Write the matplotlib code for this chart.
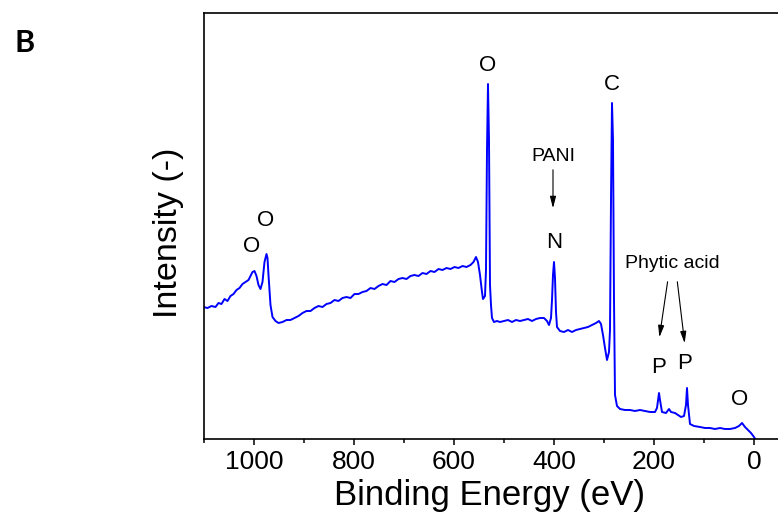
import matplotlib
matplotlib.use("Agg")
import matplotlib.pyplot as plt
from matplotlib.ticker import MultipleLocator

plt.rcParams['font.family'] = ['Liberation Sans', 'DejaVu Sans']

# XPS survey spectrum (binding energy in eV, intensity in a.u.)
energy = [1101, 1093, 1085, 1077, 1071, 1065, 1059, 1053, 1047, 1041, 1035, 1029,
          1023, 1017, 1011, 1007, 1003, 999, 995, 991, 987, 983, 979, 975, 973, 971,
          967, 963, 957, 951, 943, 935, 927, 919, 911, 903, 895, 887, 879, 871, 863,
          855, 847, 839, 831, 823, 815, 807, 799, 791, 783, 775, 767, 759, 751, 743,
          735, 727, 719, 711, 703, 695, 687, 679, 671, 663, 655, 647, 639, 631, 623,
          615, 607, 599, 591, 583, 575, 567, 561, 556, 552, 548, 544, 542, 538, 536,
          534, 532, 530, 528, 526, 524, 520, 514, 508, 500, 492, 484, 476, 468, 460,
          452, 444, 436, 428, 420, 414, 410, 406, 404, 402, 400, 398, 396, 394, 388,
          380, 372, 364, 356, 348, 340, 332, 324, 316, 310, 306, 302, 298, 294, 290,
          288, 286, 284, 282, 280, 278, 274, 268, 258, 248, 238, 228, 218, 208, 198,
          194, 190, 188, 184, 176, 170, 166, 158, 152, 146, 140, 136, 134, 132, 128,
          120, 108, 98, 88, 78, 68, 58, 48, 38, 30, 24, 18, 12, 6, 0, -6]
intensity = [132, 131, 133, 132, 136, 135, 140, 138, 143, 145, 149, 151,
             155, 157, 159, 163, 167, 168, 163, 154, 150, 157, 177, 185, 181, 164,
             134, 122, 118, 116, 117, 119, 119, 121, 123, 126, 128, 128, 131, 133, 132,
             135, 136, 139, 138, 141, 142, 141, 145, 145, 147, 148, 151, 150, 153, 155,
             154, 158, 157, 160, 161, 160, 163, 164, 163, 166, 165, 168, 167, 170, 169,
             171, 170, 172, 171, 173, 172, 174, 177, 182, 177, 164, 147, 140, 143, 169,
             289, 355, 299, 154, 134, 121, 117, 118, 117, 118, 119, 117, 119, 118, 119,
             120, 118, 120, 121, 121, 118, 114, 121, 139, 164, 177, 161, 127, 112, 108,
             107, 109, 107, 109, 110, 111, 112, 114, 116, 118, 115, 104, 91, 79, 87,
             109, 239, 336, 299, 139, 44, 33, 30, 29, 29, 28, 29, 28, 27, 27,
             31, 46, 39, 27, 26, 30, 27, 26, 24, 22, 23, 34, 51, 34, 15,
             13, 12, 11, 11, 10, 11, 10, 10, 11, 13, 16, 12, 9, 6, 2, -3]

# peak labels: (text, energy, intensity)
peak_labels = [("O", 532, 374), ("C", 284, 355), ("N", 400, 197),
               ("O", 1004, 193), ("O", 976, 219), ("P", 190, 71),
               ("P", 138, 75), ("O", 28, 39)]

fig = plt.figure(figsize=(7.78, 5.21), dpi=100)
ax = fig.add_axes([0.2622, 0.1574, 0.7378, 0.8176])

ax.plot(energy, intensity, color='#0000ff', lw=1.4)

ax.set_xlim(1100, -48)
ax.set_ylim(0, 426)
ax.xaxis.set_major_locator(MultipleLocator(200))
ax.xaxis.set_minor_locator(MultipleLocator(100))
ax.set_yticks([])
ax.tick_params(axis='x', which='major', direction='out', length=4, width=1.1,
               labelsize=19, pad=4)
ax.tick_params(axis='x', which='minor', direction='out', length=3, width=1.1)
for sp in ax.spines.values():
    sp.set_linewidth(1.2)
ax.spines['right'].set_visible(False)

ax.set_xlabel("Binding Energy (eV)", fontsize=25)
ax.xaxis.set_label_coords(0.498, -0.093)
ax.xaxis.label.set_va('top')
ax.set_ylabel("Intensity (-)", fontsize=24.5)
ax.yaxis.set_label_coords(-0.035, 0.484)

for txt, x, y in peak_labels:
    ax.text(x, y, txt, fontsize=16, ha='center', va='center')

arrow = dict(arrowstyle='-|>,head_width=0.18,head_length=0.7', color='black', lw=0.8)
ax.text(402, 283, "PANI", fontsize=14, ha='center', va='center')
ax.annotate("", xy=(402, 228), xytext=(402, 272), arrowprops=arrow)

ax.text(164, 176, "Phytic acid", fontsize=14, ha='center', va='center')
ax.annotate("", xy=(190, 99), xytext=(172, 160), arrowprops=arrow)
ax.annotate("", xy=(138, 93), xytext=(154, 160), arrowprops=arrow)

fig.text(0.019, 0.918, "B", fontsize=22, fontweight='bold', family='Lato',
         ha='left', va='center')

fig.savefig("out.png", dpi=100)
